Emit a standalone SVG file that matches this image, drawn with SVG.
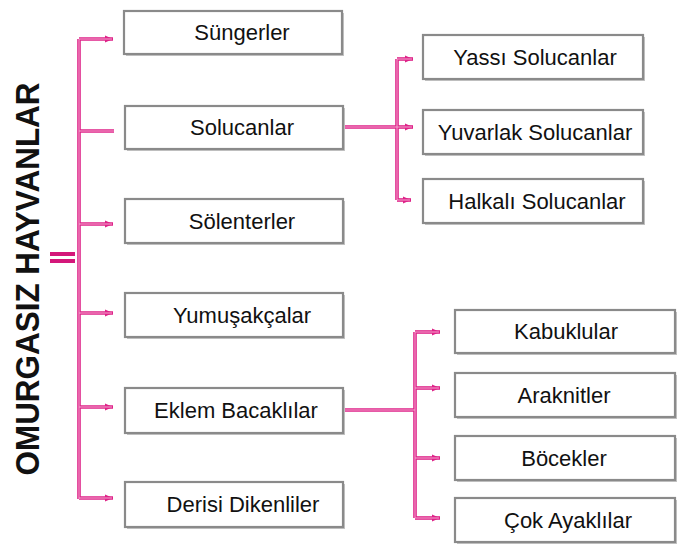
<svg xmlns="http://www.w3.org/2000/svg" width="682" height="551" viewBox="0 0 682 551">
<style>
.box{fill:#ffffff;stroke:#8a8a8a;stroke-width:2.2}
.sh{fill:#c4c4c4}
.t{font-family:"Liberation Sans",Arial,sans-serif;font-size:22px;fill:#111111;text-anchor:middle}
.o{fill:none;stroke:#de2288;stroke-width:3.6}
.i{fill:none;stroke:#f5a8d0;stroke-width:1}
.eq{stroke:#d4177a;stroke-width:4}
</style>
<defs>
<marker id="ah" markerUnits="userSpaceOnUse" markerWidth="9" markerHeight="9" refX="8" refY="4.5" orient="auto">
<path d="M0,1 L8,4.5 L0,8 Z" fill="#de2288"/>
</marker>
</defs>
<rect width="682" height="551" fill="#ffffff"/>
<g id="title">
<text transform="translate(39,279) rotate(-90)" x="0" y="0" font-family="Liberation Sans,Arial,sans-serif" font-weight="bold" font-size="33" fill="#111111" text-anchor="middle" textLength="393" lengthAdjust="spacingAndGlyphs">OMURGASIZ HAYVANLAR</text>
<line class="eq" x1="50" y1="254" x2="75" y2="254"/>
<line class="eq" x1="50" y1="261" x2="75" y2="261"/>
</g>
<g id="connectors">
<path class="o" d="M79,39 V499"/>
<path class="o" marker-end="url(#ah)" d="M79,39 H113"/>
<path class="o" d="M79,131 H114"/>
<path class="o" marker-end="url(#ah)" d="M79,224 H113"/>
<path class="o" marker-end="url(#ah)" d="M79,313 H113"/>
<path class="o" marker-end="url(#ah)" d="M79,407 H113"/>
<path class="o" marker-end="url(#ah)" d="M79,498 H113"/>
<path class="o" d="M343,127 H397"/>
<path class="o" d="M397,59 V200"/>
<path class="o" marker-end="url(#ah)" d="M397,59 H413"/>
<path class="o" marker-end="url(#ah)" d="M397,127 H413"/>
<path class="o" marker-end="url(#ah)" d="M397,200 H411"/>
<path class="o" d="M343,410 H415"/>
<path class="o" d="M415,332 V518"/>
<path class="o" marker-end="url(#ah)" d="M415,332 H440"/>
<path class="o" marker-end="url(#ah)" d="M415,388 H440"/>
<path class="o" marker-end="url(#ah)" d="M415,458 H440"/>
<path class="o" marker-end="url(#ah)" d="M415,518 H440"/>
<path class="i" d="M79,39 V499 M79,39 H112 M79,131 H114 M79,224 H112 M79,313 H112 M79,407 H112 M79,498 H112"/>
<path class="i" d="M343,127 H397 M397,59 V200 M397,59 H412 M397,127 H412 M397,200 H410"/>
<path class="i" d="M343,410 H415 M415,332 V518 M415,332 H439 M415,388 H439 M415,458 H439 M415,518 H439"/>
</g>
<g id="n-sungerler"><rect class="sh" x="126" y="13" width="218" height="43"/><rect class="box" x="124" y="11" width="218" height="43"/><text class="t" x="242" y="40">Süngerler</text></g>
<g id="n-solucanlar"><rect class="sh" x="127" y="108" width="218" height="43"/><rect class="box" x="125" y="106" width="218" height="43"/><text class="t" x="242" y="135">Solucanlar</text></g>
<g id="n-solenterler"><rect class="sh" x="127" y="201" width="218" height="44"/><rect class="box" x="125" y="199" width="218" height="44"/><text class="t" x="242" y="228.5">Sölenterler</text></g>
<g id="n-yumusakcalar"><rect class="sh" x="127" y="295" width="218" height="44"/><rect class="box" x="125" y="293" width="218" height="44"/><text class="t" x="242" y="322.5">Yumuşakçalar</text></g>
<g id="n-eklem"><rect class="sh" x="127" y="390" width="218" height="45"/><rect class="box" x="125" y="388" width="218" height="45"/><text class="t" x="236" y="418">Eklem Bacaklılar</text></g>
<g id="n-derisi"><rect class="sh" x="127" y="484" width="218" height="45"/><rect class="box" x="125" y="482" width="218" height="45"/><text class="t" x="243" y="512">Derisi Dikenliler</text></g>
<g id="n-yassi"><rect class="sh" x="425" y="37" width="220" height="44"/><rect class="box" x="423" y="35" width="220" height="44"/><text class="t" x="535" y="64.5">Yassı Solucanlar</text></g>
<g id="n-yuvarlak"><rect class="sh" x="425" y="112" width="220" height="44"/><rect class="box" x="423" y="110" width="220" height="44"/><text class="t" x="535" y="139.5">Yuvarlak Solucanlar</text></g>
<g id="n-halkali"><rect class="sh" x="425" y="181" width="220" height="44"/><rect class="box" x="423" y="179" width="220" height="44"/><text class="t" x="537" y="208.5">Halkalı Solucanlar</text></g>
<g id="n-kabuklular"><rect class="sh" x="457" y="312" width="220" height="43"/><rect class="box" x="455" y="310" width="220" height="43"/><text class="t" x="566" y="339">Kabuklular</text></g>
<g id="n-araknitler"><rect class="sh" x="457" y="375" width="220" height="44"/><rect class="box" x="455" y="373" width="220" height="44"/><text class="t" x="564" y="402.5">Araknitler</text></g>
<g id="n-bocekler"><rect class="sh" x="457" y="438" width="220" height="44"/><rect class="box" x="455" y="436" width="220" height="44"/><text class="t" x="564" y="465.5">Böcekler</text></g>
<g id="n-cok"><rect class="sh" x="457" y="500" width="220" height="44"/><rect class="box" x="455" y="498" width="220" height="44"/><text class="t" x="568" y="527.5">Çok Ayaklılar</text></g>
</svg>
